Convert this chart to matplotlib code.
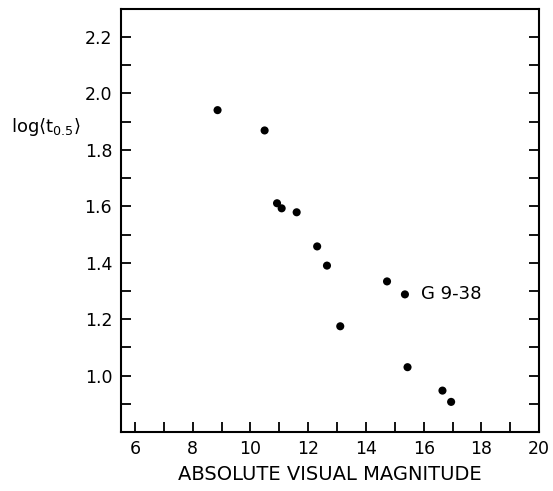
import matplotlib
matplotlib.use('Agg')
import matplotlib.pyplot as plt
from matplotlib.ticker import MultipleLocator

# absolute visual magnitude vs log<t_0.5>
mag = [8.86, 10.49, 10.92, 11.08, 11.60, 12.31, 12.65, 14.73, 15.35, 13.11, 15.44, 16.65, 16.95]
logt = [1.941, 1.869, 1.611, 1.593, 1.579, 1.458, 1.390, 1.334, 1.288, 1.175, 1.030, 0.947, 0.907]
label_star = 'G 9-38'
label_idx = 8
yticks = [1.0, 1.2, 1.4, 1.6, 1.8, 2.0, 2.2]

plt.rcParams['font.family'] = 'DejaVu Sans'
plt.rcParams['mathtext.fontset'] = 'dejavusans'

fig = plt.figure(figsize=(5.53, 4.91), dpi=100)
ax = fig.add_axes([0.218, 0.12, 0.757, 0.862])

ax.scatter(mag, logt, s=34, c='black', edgecolors='none', zorder=3)
ax.text(mag[label_idx] + 0.55, logt[label_idx], label_star, fontsize=13,
        va='center', ha='left')

ax.set_xlim(5.5, 20)
ax.set_ylim(0.8, 2.3)

ax.xaxis.set_major_locator(MultipleLocator(2))
ax.xaxis.set_minor_locator(MultipleLocator(1))
ax.set_yticks(yticks)
ax.yaxis.set_minor_locator(MultipleLocator(0.1))
ax.yaxis.set_major_formatter(plt.FuncFormatter(lambda v, p: f'{v:.1f}'))

ax.tick_params(which='both', direction='in', length=7, width=1.3,
               top=False, right=True, labelsize=12.5, pad=6)
for s in ax.spines.values():
    s.set_linewidth(1.5)

ax.set_xlabel('ABSOLUTE VISUAL MAGNITUDE', fontsize=14, labelpad=5)
fig.text(0.02, 0.742, r'$\mathrm{log}\langle \mathrm{t}_{0.5}\rangle$', fontsize=13,
         ha='left', va='center')

fig.savefig('out.png', dpi=100)
